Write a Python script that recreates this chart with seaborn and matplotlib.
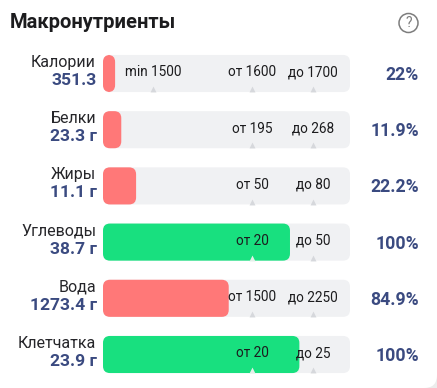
import matplotlib
matplotlib.use("Agg")
import matplotlib.pyplot as plt
import pandas as pd
import seaborn as sns
from matplotlib.patches import FancyBboxPatch, Circle

nutrients = ["Калории", "Белки", "Жиры", "Углеводы", "Вода", "Клетчатка"]
amounts = ["351.3", "23.3 г", "11.1 г", "38.7 г", "1273.4 г", "23.9 г"]
percents = ["22%", "11.9%", "22.2%", "100%", "84.9%", "100%"]
# bar fill and target marks, in percent of the track
fill = [4.9, 7.4, 13.4, 75.7, 50.9, 79.5]
track = [100, 100, 100, 100, 100, 100]
min_labels = ["min 1500", "", "", "", "", ""]
from_labels = ["от 1600", "от 195", "от 50", "от 20", "от 1500", "от 20"]
to_labels = ["до 1700", "до 268", "до 80", "до 50", "до 2250", "до 25"]
min_mark = 20.2
from_mark = 60.3
to_mark = 85.0
RED = "#ff7878"
GREEN = "#18e07f"
colors = [RED, RED, RED, GREEN, RED, GREEN]

W, H = 437, 388
PX = 0.72  # pixels to points
sns.set_theme(style="white")
plt.rcParams["font.family"] = ["Roboto", "DejaVu Sans"]

df = pd.DataFrame({"nutrient": nutrients, "fill": fill, "track": track})

fig = plt.figure(figsize=(W / 100, H / 100), dpi=100, facecolor="#ececec")

# white card with the rounded corner
bg = fig.add_axes([0, 0, 1, 1], facecolor="none")
bg.set_xlim(0, W)
bg.set_ylim(H, 0)
bg.axis("off")
bg.add_patch(FancyBboxPatch((-30, -30), W + 30, H + 30, boxstyle="round,pad=0,rounding_size=13",
                            fc="white", ec="none"))
bg.add_patch(Circle((408.5, 23), 9.5, fc="none", ec="#7d7d7d", lw=1.1))
bg.text(408.5, 23, "?", ha="center", va="center", fontsize=10, color="#7d7d7d")

ax = fig.add_axes([103 / W, 1 - 382.6 / H, 247 / W, 337.2 / H], facecolor="none")


def round_bars(ax, patches, cols, rad):
    # swap the seaborn rectangles for rounded ones
    for p, c in zip(patches, cols):
        rx = rad * 100 / 247
        ry = rad / 56.2
        ax.add_patch(FancyBboxPatch((p.get_x(), p.get_y()), p.get_width(), p.get_height(),
                                    boxstyle=f"round,pad=0,rounding_size={rx}",
                                    mutation_aspect=ry / rx,
                                    fc=c, ec="none", zorder=p.get_zorder()))
        p.set_visible(False)


sns.barplot(data=df, y="nutrient", x="track", color="#f0f1f3", width=0.66, ax=ax)
n = len(ax.patches)
round_bars(ax, list(ax.patches)[:n], ["#f0f1f3"] * n, 7)
before = len(ax.patches)
sns.barplot(data=df, y="nutrient", x="fill", color=RED, width=0.66, ax=ax)
round_bars(ax, list(ax.patches)[before:], colors, 7)

ax.set_xlim(0, 100)
ax.set_ylim(5.5, -0.5)
ax.axis("off")

for i in range(len(nutrients)):
    marks = [from_mark, to_mark]
    if min_labels[i]:
        marks = [min_mark] + marks
    for m in marks:
        on_fill = m < fill[i]
        ax.scatter(m, i + 0.28, marker="^", s=18, linewidths=0,
                   color="#e4efe9" if on_fill else "#d6d8dc", zorder=5)
    for m, t in zip([min_mark, from_mark, to_mark], [min_labels[i], from_labels[i], to_labels[i]]):
        if t:
            ax.text(m, i - 0.02, t, ha="center", va="center", fontsize=9.8,
                    color="#1c1c1e", zorder=6)
    # left labels and right percent, offset from the track in pixels
    ax.annotate(nutrients[i], (0, i), xytext=(-7 * PX, 11.3 * PX), textcoords="offset points",
                ha="right", va="center", fontsize=11.5, color="#26262a", annotation_clip=False)
    ax.annotate(amounts[i], (0, i), xytext=(-6 * PX, -7 * PX), textcoords="offset points",
                ha="right", va="center", fontsize=12.6, fontweight="bold", color="#3a4a80",
                annotation_clip=False)
    ax.annotate(percents[i], (100, i), xytext=(69 * PX, -1.5 * PX), textcoords="offset points",
                ha="right", va="center", fontsize=12.7, fontweight="bold", color="#3a4a80",
                annotation_clip=False)

fig.text(10 / W, 1 - 23 / H, "Макронутриенты", ha="left", va="center", fontsize=14.5,
         fontweight="bold", color="#1c1c1e")

fig.savefig("out.png", dpi=100)
